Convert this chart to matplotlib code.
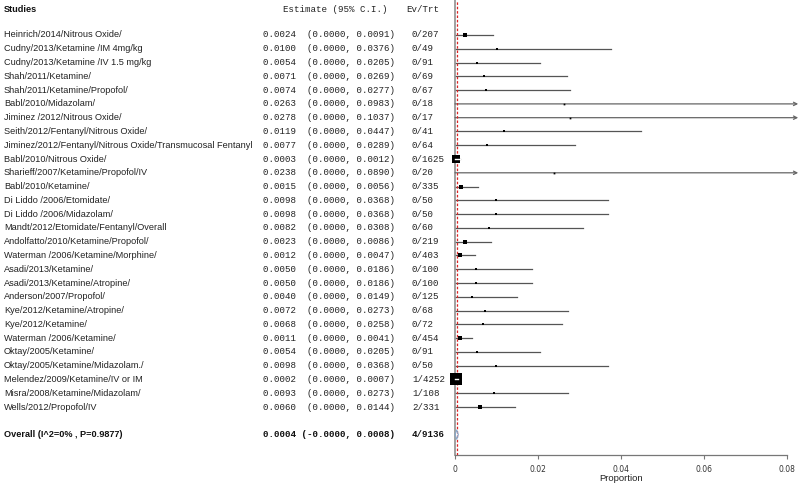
import matplotlib.pyplot as plt
import matplotlib.transforms as mtransforms
from matplotlib.patches import Polygon
import numpy as np

studies = [
    "Heinrich/2014/Nitrous Oxide/",
    "Cudny/2013/Ketamine /IM 4mg/kg",
    "Cudny/2013/Ketamine /IV 1.5 mg/kg",
    "Shah/2011/Ketamine/",
    "Shah/2011/Ketamine/Propofol/",
    "Babl/2010/Midazolam/",
    "Jiminez /2012/Nitrous Oxide/",
    "Seith/2012/Fentanyl/Nitrous Oxide/",
    "Jiminez/2012/Fentanyl/Nitrous Oxide/Transmucosal Fentanyl",
    "Babl/2010/Nitrous Oxide/",
    "Sharieff/2007/Ketamine/Propofol/IV",
    "Babl/2010/Ketamine/",
    "Di Liddo /2006/Etomidate/",
    "Di Liddo /2006/Midazolam/",
    "Mandt/2012/Etomidate/Fentanyl/Overall",
    "Andolfatto/2010/Ketamine/Propofol/",
    "Waterman /2006/Ketamine/Morphine/",
    "Asadi/2013/Ketamine/",
    "Asadi/2013/Ketamine/Atropine/",
    "Anderson/2007/Propofol/",
    "Kye/2012/Ketamine/Atropine/",
    "Kye/2012/Ketamine/",
    "Waterman /2006/Ketamine/",
    "Oktay/2005/Ketamine/",
    "Oktay/2005/Ketamine/Midazolam./",
    "Melendez/2009/Ketamine/IV or IM",
    "Misra/2008/Ketamine/Midazolam/",
    "Wells/2012/Propofol/IV",
]
estimate = [0.0024, 0.0100, 0.0054, 0.0071, 0.0074, 0.0263, 0.0278, 0.0119, 0.0077,
            0.0003, 0.0238, 0.0015, 0.0098, 0.0098, 0.0082, 0.0023, 0.0012, 0.0050,
            0.0050, 0.0040, 0.0072, 0.0068, 0.0011, 0.0054, 0.0098, 0.0002, 0.0093, 0.0060]
ci_low = [0.0] * 28
ci_high = [0.0091, 0.0376, 0.0205, 0.0269, 0.0277, 0.0983, 0.1037, 0.0447, 0.0289,
           0.0012, 0.0890, 0.0056, 0.0368, 0.0368, 0.0308, 0.0086, 0.0047, 0.0186,
           0.0186, 0.0149, 0.0273, 0.0258, 0.0041, 0.0205, 0.0368, 0.0007, 0.0273, 0.0144]
events = [0, 0, 0, 0, 0, 0, 0, 0, 0, 0, 0, 0, 0, 0, 0, 0, 0, 0, 0, 0, 0, 0, 0, 0, 0, 1, 1, 2]
treated = [207, 49, 91, 69, 67, 18, 17, 41, 64, 1625, 20, 335, 50, 50, 60, 219, 403, 100,
           100, 125, 68, 72, 454, 91, 50, 4252, 108, 331]

overall_label = "Overall (I^2=0% , P=0.9877)"
overall_est, overall_low, overall_high = 0.0004, -0.00001, 0.0008
overall_events, overall_treated = 4, 9136

xticks = [0, 0.02, 0.04, 0.06, 0.08]

W, H = 800, 484
fig = plt.figure(figsize=(8, 4.84), dpi=100)

row_h = 13.78
top_px = 35
ax_left, ax_right, ax_bottom = 455, 787, 455
ax = fig.add_axes([ax_left / W, (H - ax_bottom) / H, (ax_right - ax_left) / W, ax_bottom / H])
ax.set_xlim(0, 0.08)
ax.set_ylim((ax_bottom - top_px) / row_h, -top_px / row_h)

txt = mtransforms.blended_transform_factory(fig.transFigure, ax.transData)
px = lambda x: x / W

mono = "Liberation Mono"
sans = "Liberation Sans"
name_fs = 6.6
mono_fs = 6.6

ax.text(px(4), -1.85, "Studies", transform=txt, fontsize=name_fs, fontweight="bold",
        family=sans, va="center", color="#111")
ax.text(px(283), -1.85, "Estimate (95% C.I.)", transform=txt, fontsize=mono_fs,
        family=mono, va="center", color="#222")
ax.text(px(406), -1.85, "Ev/Trt", transform=txt, fontsize=mono_fs,
        family=mono, va="center", color="#222")

xmax_arrow = 0.0827
for i, name in enumerate(studies):
    y = i
    ax.text(px(4), y, name, transform=txt, fontsize=name_fs, family=sans, va="center", color="#222")
    ax.text(px(263), y, f"{estimate[i]:.4f}  ({ci_low[i]:.4f}, {ci_high[i]:.4f})",
            transform=txt, fontsize=mono_fs, family=mono, va="center", color="#222")
    ax.text(px(412), y, f"{events[i]}/{treated[i]}", transform=txt, fontsize=mono_fs,
            family=mono, va="center", color="#222")
    if ci_high[i] > 0.08:
        ax.annotate("", xy=(xmax_arrow, y), xytext=(ci_low[i], y), annotation_clip=False,
                    arrowprops=dict(arrowstyle="->", color="#666", lw=0.9,
                                    shrinkA=0, shrinkB=0, mutation_scale=6))
    else:
        ax.plot([ci_low[i], ci_high[i]], [y, y], color="#555", lw=0.9, clip_on=False)
    side = 0.17 * np.sqrt(treated[i]) + 1.0
    ax.plot(estimate[i], y, marker="s", ms=side * 0.72, color="black", mec="black",
            mew=0, clip_on=False, zorder=4)
    if side > 7:
        ax.plot([ci_low[i], ci_high[i]], [y, y], color="white", lw=1.0,
                clip_on=False, zorder=5)

oy = len(studies) + 1
ax.text(px(4), oy, overall_label, transform=txt, fontsize=name_fs, fontweight="bold",
        family=sans, va="center", color="#111")
ax.text(px(263), oy, f"{overall_est:.4f} ({overall_low:.4f}, {overall_high:.4f})",
        transform=txt, fontsize=mono_fs, family=mono, fontweight="bold", va="center", color="#111")
ax.text(px(412), oy, f"{overall_events}/{overall_treated}", transform=txt, fontsize=mono_fs,
        family=mono, fontweight="bold", va="center", color="#111")
diamond = Polygon([(max(overall_low, 0), oy), (overall_est, oy - 0.35),
                   (overall_high, oy), (overall_est, oy + 0.35)],
                  closed=True, fill=False, ec="#88aacc", lw=0.8, clip_on=False, zorder=5)
ax.add_patch(diamond)

# pooled estimate reference line
ax.axvline(overall_est, color="#dd2222", lw=0.9, ls=(0, (2, 1.5)), zorder=3)

for s in ["top", "right"]:
    ax.spines[s].set_visible(False)
ax.spines["left"].set_color("#999999")
ax.spines["left"].set_linewidth(1.3)
ax.spines["left"].set_zorder(2)
ax.spines["bottom"].set_color("#777777")
ax.spines["bottom"].set_linewidth(0.9)
ax.set_yticks([])
ax.set_xticks(xticks)
ax.set_xticklabels(["0", "0.02", "0.04", "0.06", "0.08"])
ax.tick_params(axis="x", length=3, width=0.8, color="#777", labelsize=5.5,
               labelcolor="#333", pad=4)
ax.set_xlabel("Proportion", fontsize=6.8, family=sans, color="#222", labelpad=0)

fig.savefig("out.png", dpi=100)
